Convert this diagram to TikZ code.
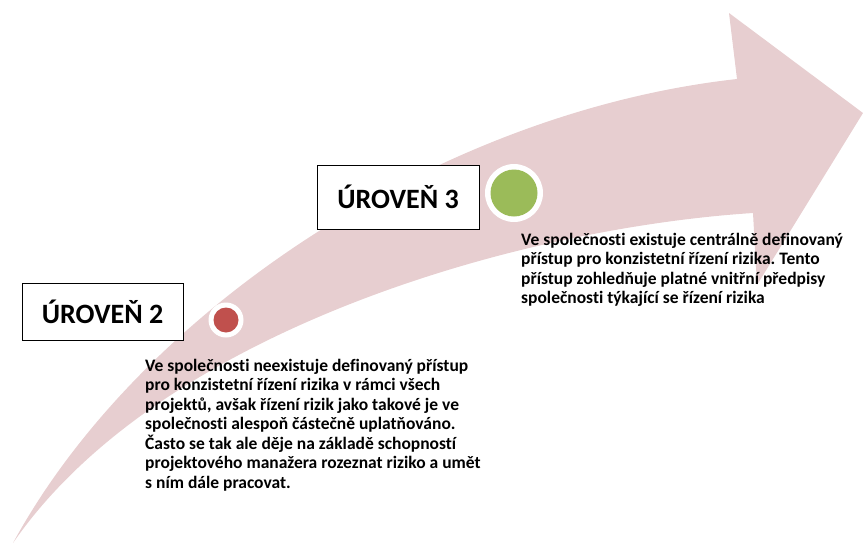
\documentclass[tikz,border=0pt]{standalone}
\usepackage{fontspec}
\setmainfont{Carlito}[Ligatures=NoCommon]
\frenchspacing
\definecolor{arrowpink}{RGB}{231,206,208}
\definecolor{dotred}{RGB}{192,80,77}
\definecolor{dotgreen}{RGB}{155,187,89}
\tikzset{
  levelbox/.style={draw=black, line width=0.9pt, fill=white, inner sep=0pt,
    font=\fontsize{28}{32}\selectfont\bfseries},
  leveltext/.style={anchor=north west, inner sep=0pt, align=left,
    font=\fontsize{17.5}{19.5}\selectfont\bfseries},
  dotring/.style={circle, fill=white, inner sep=0pt},
}
\begin{document}
\begin{tikzpicture}[x=1pt,y=-1pt]
\useasboundingbox (0,0) rectangle (863,544);
% curved progress arrow
\fill[arrowpink] (13,543) .. controls (140,310) and (440,112) .. (737,79)
  -- (729,13) -- (863,113) -- (757,285) -- (753,213)
  .. controls (520,228) and (160,330) .. (13,543) -- cycle;

% level 2
\node[levelbox, minimum width=161pt, minimum height=57pt] (box2) at (102.5,311.5) {ÚROVEŇ 2};
\node[dotring, minimum size=35pt] (ring2) at (226,320) {};
\node[circle, fill=dotred, inner sep=0pt, minimum size=25pt] (dot2) at (ring2.center) {};
\node[leveltext] (text2) at (145,359) {Ve společnosti neexistuje definovaný přístup\\
pro konzistetní řízení rizika v rámci všech\\
projektů, avšak řízení rizik jako takové je ve\\
společnosti alespoň částečně uplatňováno.\\
Často se tak ale děje na základě schopností\\
projektového manažera rozeznat riziko a umět\\
s ním dále pracovat.};

% level 3
\node[levelbox, minimum width=162pt, minimum height=64pt] (box3) at (398,197) {ÚROVEŇ 3};
\node[dotring, minimum size=58pt] (ring3) at (514,193) {};
\node[circle, fill=dotgreen, inner sep=0pt, minimum size=47pt] (dot3) at (ring3.center) {};
\node[leveltext] (text3) at (521,233) {Ve společnosti existuje centrálně definovaný\\
přístup pro konzistetní řízení rizika. Tento\\
přístup zohledňuje platné vnitřní předpisy\\
společnosti týkající se řízení rizika};
\end{tikzpicture}
\end{document}
